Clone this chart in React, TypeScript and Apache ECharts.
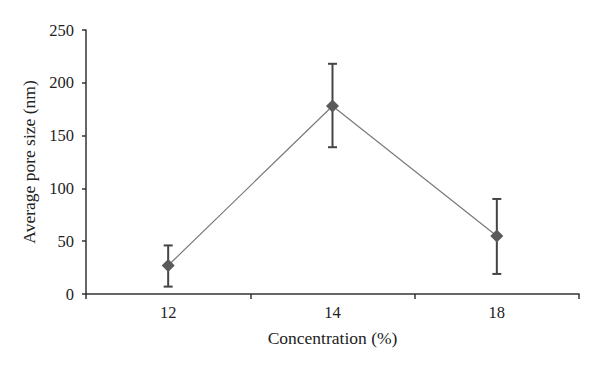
import React, { useEffect, useRef } from "react";
import * as echarts from "echarts";

const categories = ["12", "14", "18"];
const poreSize = [27, 178, 55];
const errUpper = [46, 218, 90];
const errLower = [7, 139, 19];
const yTicks = { min: 0, max: 250, interval: 50 };

const FONT = "Liberation Serif";

export default function App() {
  const ref = useRef<HTMLDivElement>(null);
  useEffect(() => {
    if (!ref.current) return;
    const chart = echarts.init(ref.current, undefined, { renderer: "svg" });
    const errData = categories.map((c, i) => [i, errLower[i], errUpper[i]]);
    chart.setOption({
      animation: false,
      backgroundColor: "#ffffff",
      grid: { left: 86, right: 21, top: 30, bottom: 76 },
      xAxis: {
        type: "category",
        data: categories,
        boundaryGap: true,
        name: "Concentration (%)",
        nameLocation: "middle",
        nameGap: 35,
        nameTextStyle: { fontFamily: FONT, fontSize: 17.5, color: "#222" },
        axisLine: { lineStyle: { color: "#333", width: 1.5 } },
        axisTick: { show: true, length: 5, inside: false, lineStyle: { color: "#333", width: 1.5 } },
        axisLabel: { fontFamily: FONT, fontSize: 16.5, color: "#222", margin: 10 },
        splitLine: { show: false },
      },
      yAxis: {
        type: "value",
        min: yTicks.min,
        max: yTicks.max,
        interval: yTicks.interval,
        name: "Average pore size (nm)",
        nameLocation: "middle",
        nameGap: 47,
        nameRotate: 90,
        nameTextStyle: { fontFamily: FONT, fontSize: 17.5, color: "#222" },
        axisLine: { show: true, lineStyle: { color: "#333", width: 1.5 } },
        axisTick: { show: true, length: 4, lineStyle: { color: "#333", width: 1.5 } },
        axisLabel: { fontFamily: FONT, fontSize: 16.5, color: "#222", margin: 12 },
        splitLine: { show: false },
      },
      series: [
        {
          type: "custom",
          data: errData,
          z: 1,
          renderItem: (params: any, api: any) => {
            const x = api.value(0);
            const lo = api.coord([x, api.value(1)]);
            const hi = api.coord([x, api.value(2)]);
            const cap = 4.5;
            const style = { stroke: "#444", lineWidth: 2 };
            return {
              type: "group",
              children: [
                { type: "line", shape: { x1: hi[0], y1: hi[1], x2: lo[0], y2: lo[1] }, style },
                { type: "line", shape: { x1: hi[0] - cap, y1: hi[1], x2: hi[0] + cap, y2: hi[1] }, style },
                { type: "line", shape: { x1: lo[0] - cap, y1: lo[1], x2: lo[0] + cap, y2: lo[1] }, style },
              ],
            };
          },
        },
        {
          type: "line",
          data: poreSize,
          z: 2,
          symbol: "diamond",
          symbolSize: 13,
          showAllSymbol: true,
          lineStyle: { color: "#7a7a7a", width: 1.2 },
          itemStyle: { color: "#5a5a5a", borderWidth: 0 },
        },
      ],
    });
    return () => chart.dispose();
  }, []);
  return <div ref={ref} style={{ width: 600, height: 370, position: "absolute", left: 0, top: 0 }} />;
}
